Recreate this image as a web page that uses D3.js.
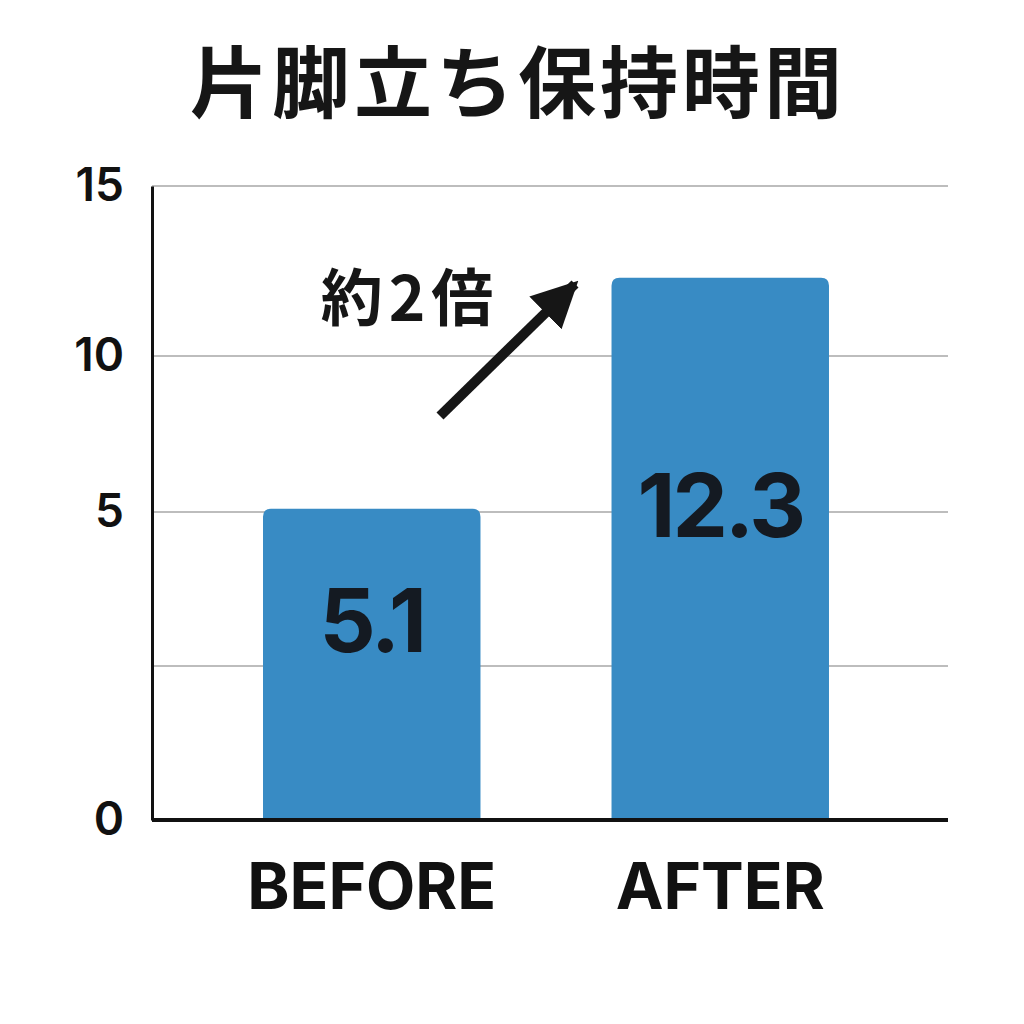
<!DOCTYPE html>
<html>
  <head>
    <meta charset="utf-8">
    <title>片脚立ち保持時間</title>
    <script src="https://cdn.jsdelivr.net/npm/d3@7"></script>
    <style>
      body { margin: 0; background: #fff; }
      svg { display: block; }
    </style>
  </head>
  <body>
    <div id="chart"></div>

    <script>
      // data
      const categories = ["BEFORE", "AFTER"];
      const values = [5.1, 12.3];
      const tickValues = [0, 5, 10, 15];
      const gridValues = [2.5, 5, 10, 15];
      const title = "片脚立ち保持時間";
      const note = "約2倍";

      // page layout
      const width = 1024, height = 1024;
      const margin = { top: 186, right: 76, bottom: 204, left: 152 };
      const plotH = height - margin.top - margin.bottom;

      const svg = d3.select("#chart")
        .append("svg")
          .attr("width", width)
          .attr("height", height);

      // the axis in the picture is not evenly spaced, so follow its ticks piece by piece
      const y = d3.scaleLinear()
        .domain(tickValues)
        .range([height - margin.bottom, margin.top + plotH * 0.514, margin.top + plotH * 0.268, margin.top]);

      const x = d3.scaleBand()
        .domain(categories)
        .range([margin.left - 4, width - margin.right - 4])
        .paddingInner(0.376)
        .paddingOuter(0.33);

      // title
      svg.append("text")
        .attr("x", 518)
        .attr("y", 78)
        .attr("text-anchor", "middle")
        .attr("dominant-baseline", "central")
        .style("font-family", "'Noto Sans CJK JP', sans-serif")
        .style("font-weight", 700)
        .style("font-size", "78px")
        .style("letter-spacing", "4px")
        .style("fill", "#161616")
        .text(title);

      // grid lines
      svg.append("g")
        .selectAll("line")
        .data(gridValues)
        .join("line")
          .attr("x1", margin.left)
          .attr("x2", width - margin.right)
          .attr("y1", d => y(d))
          .attr("y2", d => y(d))
          .attr("stroke", "#bdbdbd")
          .attr("stroke-width", 2);

      // bars with rounded tops
      function barPath(x0, w, top, bottom, r) {
        return "M" + x0 + "," + bottom
          + "V" + (top + r)
          + "Q" + x0 + "," + top + " " + (x0 + r) + "," + top
          + "H" + (x0 + w - r)
          + "Q" + (x0 + w) + "," + top + " " + (x0 + w) + "," + (top + r)
          + "V" + bottom + "Z";
      }

      svg.append("g")
        .selectAll("path")
        .data(values)
        .join("path")
          .attr("d", (d, i) => barPath(x(categories[i]), x.bandwidth(), y(d), y(0), 8))
          .attr("fill", "#388bc4");

      // value labels, a bit above the middle of each bar
      svg.append("g")
        .selectAll("text")
        .data(values)
        .join("text")
          .attr("x", (d, i) => x(categories[i]) + x.bandwidth() / 2)
          .attr("y", d => (y(d) + y(0)) / 2 - 44)
          .attr("text-anchor", "middle")
          .attr("dominant-baseline", "central")
          .style("font-family", "Inter, sans-serif")
          .style("font-weight", 700)
          .style("font-size", "88px")
          .style("letter-spacing", "-3px")
          .style("fill", "#141a22")
          .text(d => d3.format(".1f")(d));

      // y axis
      const yAxis = svg.append("g")
        .attr("transform", "translate(" + margin.left + ",0)")
        .call(d3.axisLeft(y).tickValues(tickValues).tickSize(0).tickPadding(28));
      yAxis.select(".domain").attr("stroke", "#111").attr("stroke-width", 3);
      yAxis.selectAll("text")
        .style("font-family", "Inter, sans-serif")
        .style("font-weight", 600)
        .style("font-size", "46px")
        .style("fill", "#111");

      // x axis
      const xAxis = svg.append("g")
        .attr("transform", "translate(0," + y(0) + ")")
        .call(d3.axisBottom(x).tickSize(0).tickPadding(44).tickSizeOuter(0));
      xAxis.select(".domain")
        .attr("d", "M" + margin.left + ",0H" + (width - margin.right))
        .attr("stroke", "#111")
        .attr("stroke-width", 4);
      xAxis.selectAll("text")
        .attr("dy", "0.71em")
        .style("font-family", "Inter, sans-serif")
        .style("font-weight", 700)
        .style("font-size", "64px")
        .style("fill", "#111");

      // annotation
      svg.append("text")
        .attr("x", 410)
        .attr("y", 294)
        .attr("text-anchor", "middle")
        .attr("dominant-baseline", "central")
        .style("font-family", "'Noto Sans CJK JP', sans-serif")
        .style("font-weight", 700)
        .style("font-size", "62px")
        .style("letter-spacing", "6px")
        .style("fill", "#161616")
        .text(note);

      svg.append("defs")
        .append("marker")
          .attr("id", "head")
          .attr("viewBox", "0 0 10 10")
          .attr("refX", 9)
          .attr("refY", 5)
          .attr("markerWidth", 4.6)
          .attr("markerHeight", 4.6)
          .attr("markerUnits", "strokeWidth")
          .attr("orient", "auto")
        .append("path")
          .attr("d", "M0,0L10,5L0,10Z")
          .attr("fill", "#161616");

      svg.append("line")
        .attr("x1", 440)
        .attr("y1", 416)
        .attr("x2", 575)
        .attr("y2", 284)
        .attr("stroke", "#161616")
        .attr("stroke-width", 10)
        .attr("marker-end", "url(#head)");
    </script>
  </body>
</html>
